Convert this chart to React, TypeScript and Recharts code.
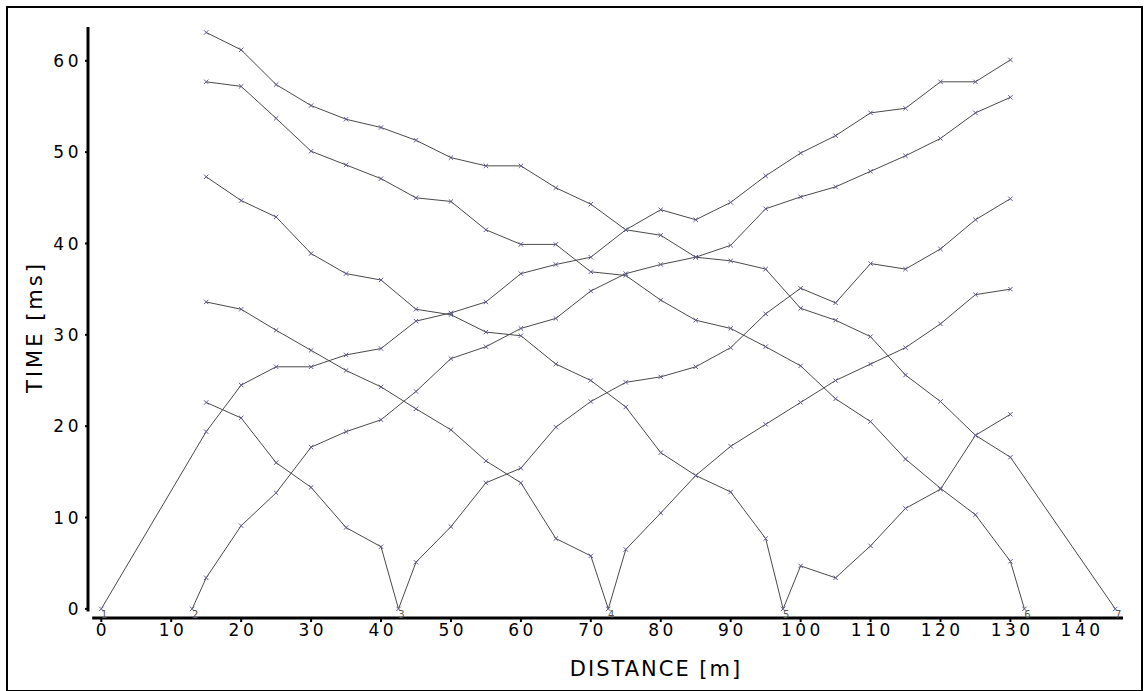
import { LineChart, Line, XAxis, YAxis, ReferenceLine, Label } from "recharts";

// geophone offsets along the line [m]
const OFFSETS = [15, 20, 25, 30, 35, 40, 45, 50, 55, 60, 65, 70, 75, 80, 85, 90, 95, 100, 105, 110, 115, 120, 125, 130];

// shot point positions [m]
const SHOT_X = [0, 13, 42.5, 72.5, 97.5, 132, 145];

// first-break picks per shot [ms], one value per geophone
const SHOT_1 = [19.4, 24.5, 26.5, 26.5, 27.8, 28.5, 31.5, 32.4, 33.6, 36.7, 37.7, 38.5, 41.5, 43.7, 42.6, 44.5, 47.4, 49.9, 51.8, 54.3, 54.8, 57.7, 57.7, 60.1];
const SHOT_2 = [3.4, 9.1, 12.7, 17.7, 19.4, 20.7, 23.8, 27.4, 28.7, 30.7, 31.8, 34.8, 36.7, 37.7, 38.5, 39.8, 43.8, 45.1, 46.2, 47.9, 49.6, 51.5, 54.3, 56.0];
const SHOT_3 = [22.6, 20.9, 16.0, 13.3, 8.9, 6.8, 5.1, 9.0, 13.8, 15.4, 19.9, 22.7, 24.8, 25.4, 26.5, 28.6, 32.3, 35.1, 33.5, 37.8, 37.2, 39.4, 42.6, 44.9];
const SHOT_4 = [33.6, 32.8, 30.5, 28.3, 26.1, 24.3, 21.9, 19.6, 16.2, 13.8, 7.7, 5.8, 6.5, 10.5, 14.6, 17.8, 20.2, 22.6, 25.0, 26.8, 28.6, 31.2, 34.4, 35.0];
const SHOT_5 = [47.3, 44.7, 42.9, 38.9, 36.7, 36.0, 32.8, 32.2, 30.3, 29.9, 26.8, 25.0, 22.1, 17.1, 14.6, 12.8, 7.7, 4.7, 3.4, 6.9, 11.0, 13.1, 19.0, 21.3];
const SHOT_6 = [57.7, 57.2, 53.7, 50.1, 48.6, 47.1, 45.0, 44.6, 41.5, 39.9, 39.9, 36.9, 36.5, 33.8, 31.6, 30.7, 28.7, 26.6, 23.0, 20.5, 16.4, 13.2, 10.3, 5.2];
const SHOT_7 = [63.1, 61.2, 57.4, 55.1, 53.6, 52.7, 51.3, 49.4, 48.5, 48.5, 46.1, 44.3, 41.5, 40.9, 38.5, 38.1, 37.2, 32.9, 31.6, 29.8, 25.6, 22.7, 19.0, 16.6];

const SHOT_TIMES = [SHOT_1, SHOT_2, SHOT_3, SHOT_4, SHOT_5, SHOT_6, SHOT_7];

const X_TICKS = [0, 10, 20, 30, 40, 50, 60, 70, 80, 90, 100, 110, 120, 130, 140];
const Y_TICKS = [0, 10, 20, 30, 40, 50, 60];

const FONT = "DejaVu Sans, Verdana, sans-serif";

// each traveltime curve runs through its shot point at t = 0
const series = SHOT_TIMES.map((times, i) =>
  [...OFFSETS.map((x, j) => ({ x, t: times[j] })), { x: SHOT_X[i], t: 0 }].sort((a, b) => a.x - b.x)
);

const makeDot = (shotNo: number) => (props: any) => {
  const { cx, cy, payload, index } = props;
  const s = 2.2;
  return (
    <g key={`dot-${shotNo}-${index}`}>
      <path
        d={`M${cx - s},${cy - s}L${cx + s},${cy + s}M${cx - s},${cy + s}L${cx + s},${cy - s}`}
        stroke="#5c5c90"
        strokeWidth={1}
      />
      {payload.t === 0 && (
        <text x={cx + 3} y={cy + 9} fontSize={10} fill="#555" textAnchor="middle" fontFamily={FONT}>
          {shotNo}
        </text>
      )}
    </g>
  );
};

const tickStyle = { fontSize: 17, fill: "#000", fontFamily: FONT, letterSpacing: 3.5 };

export default function App() {
  return (
    <div style={{ position: "absolute", left: 0, top: 0, width: 1144, height: 691, background: "#fff" }}>
      <div
        style={{
          position: "absolute",
          left: 6,
          top: 6,
          width: 1133,
          height: 682,
          border: "2px solid #000",
        }}
      />
      <div style={{ position: "absolute", left: 0, top: 0 }}>
        <LineChart width={1144} height={691} margin={{ top: 27, right: 21, left: 0, bottom: 0 }}>
          <XAxis
            type="number"
            dataKey="x"
            domain={[-1.9, 146.1]}
            allowDataOverflow
            ticks={X_TICKS}
            axisLine={false}
            tickLine={{ stroke: "#000", strokeWidth: 2 }}
            tickSize={4}
            tickMargin={2}
            height={73}
            tick={{ ...tickStyle, dx: 1.75 }}
          >
            <Label
              content={() => (
                <text x={656} y={676} textAnchor="middle" fontSize={21} letterSpacing={2} fontFamily={FONT} fill="#000">
                  DISTANCE [m]
                </text>
              )}
            />
          </XAxis>
          <YAxis
            type="number"
            domain={[-1, 63.7]}
            allowDataOverflow
            ticks={Y_TICKS}
            axisLine={false}
            tickLine={{ stroke: "#000", strokeWidth: 2 }}
            tickSize={3}
            tickMargin={3}
            width={88}
            tick={tickStyle}
          >
            <Label
              content={() => (
                <text
                  x={0}
                  y={0}
                  transform="translate(42 327) rotate(-90)"
                  textAnchor="middle"
                  fontSize={21}
                  letterSpacing={3}
                  fontFamily={FONT}
                  fill="#000"
                >
                  TIME [ms]
                </text>
              )}
            />
          </YAxis>
          <ReferenceLine
            segment={[{ x: -1.9, y: -0.3 }, { x: -1.9, y: 63.7 }]}
            stroke="#000"
            strokeWidth={3}
            ifOverflow="visible"
          />
          <ReferenceLine
            segment={[{ x: -1.3, y: -1 }, { x: 146.1, y: -1 }]}
            stroke="#000"
            strokeWidth={3}
            ifOverflow="visible"
          />
          {series.map((data, i) => (
            <Line
              key={`shot-${i + 1}`}
              data={data}
              dataKey="t"
              type="linear"
              stroke="#4a4a4a"
              strokeWidth={1}
              dot={makeDot(i + 1)}
              activeDot={false}
              isAnimationActive={false}
            />
          ))}
        </LineChart>
      </div>
    </div>
  );
}
